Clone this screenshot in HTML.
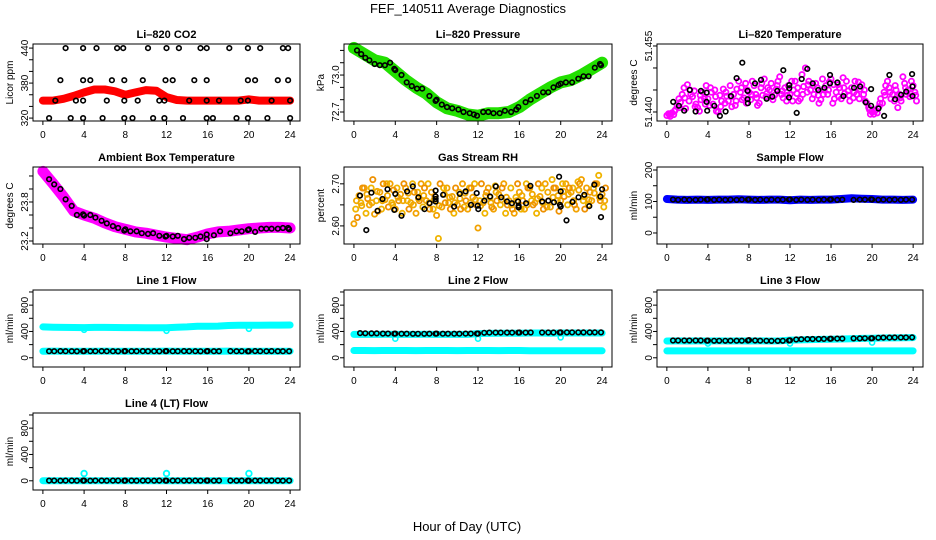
<!DOCTYPE html>
<html><head><meta charset="utf-8"><title>FEF_140511 Average Diagnostics</title>
<style>
html,body{margin:0;padding:0;background:#fff;}
svg{display:block;font-family:"Liberation Sans",sans-serif;}
</style></head>
<body>
<svg id="chart" width="936" height="540" viewBox="0 0 936 540" xmlns="http://www.w3.org/2000/svg">
<rect width="936" height="540" fill="#fff"/>
<text x="468" y="13" text-anchor="middle" font-size="13">FEF_140511  Average Diagnostics</text>
<text x="467" y="531" text-anchor="middle" font-size="13">Hour of Day (UTC)</text>
</svg>
<script>
// ---------- data ----------
var bandHours = [0,1,2,3,4,5,6,7,8,9,10,11,12,13,14,15,16,17,18,19,20,21,22,23,24];

var co2Band = [350,350,353,358,364,369,369,366,360,364,368,367,356,351,350,350,350,350,350,350,352,350,350,350,350];
var co2PtHours = [2.2,3.9,5.2,7.2,7.8,10.2,12.0,13.2,15.3,15.9,18.1,19.9,21.1,23.3,23.8,
  1.7,3.9,4.6,6.7,7.9,9.7,11.9,12.6,14.7,15.9,19.9,20.6,22.8,23.8,
  1.2,3.2,3.9,6.2,7.9,9.2,11.3,11.8,14.2,15.9,17.1,19.2,19.9,22.2,24.0,
  0.6,2.7,3.9,5.8,7.9,8.7,10.7,11.8,13.6,15.9,16.5,18.8,19.9,21.8,24.0];
var co2PtValues = [440,440,440,440,440,440,440,440,440,440,440,440,440,440,440,
  385,385,385,385,385,385,385,385,385,385,385,385,385,385,
  350,350,350,350,350,350,350,350,350,350,350,350,350,350,350,
  320,320,320,320,320,320,320,320,320,320,320,320,320,320,320];

var presBand = [73.22,73.17,73.12,73.10,73.03,72.96,72.90,72.85,72.78,72.73,72.71,72.68,72.67,72.69,72.69,72.70,72.74,72.80,72.85,72.90,72.94,72.96,73.00,73.05,73.10];
var presPtHours = [0.3,0.7,1.1,1.5,2.0,2.5,3.0,3.5,3.9,4.0,4.6,5.1,5.6,6.1,6.6,7.3,7.9,8.0,8.5,9.0,9.5,10.1,10.6,11.2,11.6,11.9,12.5,13.0,13.5,14.1,14.6,15.2,15.7,15.9,16.6,17.1,17.7,18.3,18.8,19.3,19.8,20.0,20.5,21.1,21.7,22.2,22.7,23.3,23.8,23.9];
var presPtValues = [73.20,73.17,73.14,73.12,73.09,73.08,73.08,73.10,73.05,73.04,73.00,72.94,72.91,72.89,72.89,72.83,72.79,72.80,72.76,72.74,72.73,72.72,72.70,72.69,72.68,72.67,72.70,72.70,72.69,72.69,72.71,72.70,72.72,72.74,72.78,72.80,72.83,72.86,72.86,72.90,72.92,72.93,72.94,72.94,72.97,72.99,72.99,73.06,73.09,73.08];

var tempA = [51.4392,51.4398,51.4415,51.4440,51.4462,51.4435,51.4410,51.4445,51.4430,51.4418,51.4400,51.4452,51.4425,51.4440,51.4470,51.4432,51.4445,51.4460,51.4420,51.4475,51.4450,51.4438,51.4480,51.4455,51.4440,51.4470,51.4430,51.4500,51.4450,51.4465,51.4428,51.4460,51.4475,51.4445,51.4430,51.4470,51.4455,51.4440,51.4462,51.4420,51.4400,51.4398,51.4420,51.4470,51.4440,51.4410,51.4480,51.4450,51.4460];
var tempB = [51.4396,51.4394,51.4430,51.4455,51.4425,51.4448,51.4402,51.4430,51.4415,51.4450,51.4438,51.4420,51.4460,51.4415,51.4445,51.4465,51.4428,51.4440,51.4455,51.4435,51.4465,51.4452,51.4440,51.4425,51.4470,51.4442,51.4485,51.4445,51.4430,51.4455,51.4475,51.4440,51.4420,51.4462,51.4478,51.4448,51.4432,51.4468,51.4440,51.4410,51.4395,51.4412,51.4445,51.4455,51.4425,51.4440,51.4465,51.4435,51.4445];
var tempC = [51.4390,51.4405,51.4422,51.4408,51.4440,51.4418,51.4428,51.4460,51.4445,51.4402,51.4425,51.4436,51.4412,51.4452,51.4428,51.4450,51.4470,51.4415,51.4438,51.4455,51.4428,51.4470,51.4432,51.4460,51.4450,51.4425,51.4458,51.4470,51.4440,51.4420,51.4450,51.4468,51.4430,51.4455,51.4442,51.4425,51.4470,51.4452,51.4425,51.4395,51.4405,51.4430,51.4460,51.4430,51.4450,51.4425,51.4440,51.4470,51.4425];
var tempD = [51.4394,51.4402,51.4410,51.4432,51.4450,51.4412,51.4438,51.4418,51.4455,51.4435,51.4412,51.4445,51.4435,51.4425,51.4455,51.4420,51.4440,51.4432,51.4465,51.4442,51.4435,51.4460,51.4448,51.4438,51.4425,51.4455,51.4440,51.4462,51.4460,51.4438,51.4440,51.4450,51.4462,51.4435,51.4455,51.4438,51.4445,51.4430,51.4450,51.4405,51.4402,51.4420,51.4438,51.4445,51.4460,51.4432,51.4455,51.4442,51.4438];
var tempPtHours = [0.62,1.17,1.69,2.24,2.80,3.32,3.87,3.87,3.93,4.62,5.17,5.72,6.24,6.80,7.35,7.87,7.87,7.9,8.59,9.17,9.72,10.28,10.76,11.35,11.93,11.93,11.9,12.65,13.14,13.69,14.21,14.76,15.35,15.90,15.90,16.62,17.20,18.24,18.83,19.38,19.90,19.90,20.62,21.17,21.69,22.24,22.83,23.32,23.94,23.94,23.9];
var tempPtValues = [51.4423,51.4414,51.4403,51.4450,51.4401,51.4448,51.4444,51.4423,51.4403,51.4414,51.4391,51.4401,51.4436,51.4477,51.4512,51.4448,51.4429,51.4420,51.4465,51.4473,51.4430,51.4435,51.4448,51.4495,51.4461,51.4454,51.4433,51.4398,51.4475,51.4498,51.4465,51.4450,51.4455,51.4465,51.4484,51.4467,51.4436,51.4455,51.4458,51.4422,51.4414,51.4452,51.4408,51.4391,51.4484,51.4429,51.4439,51.4446,51.4436,51.4458,51.4486];

var ambBand = [24.27,24.08,23.88,23.66,23.60,23.55,23.48,23.42,23.38,23.34,23.32,23.29,23.26,23.24,23.22,23.26,23.31,23.34,23.35,23.37,23.39,23.40,23.41,23.41,23.40];
var ambPtHours = [0.6,1.1,1.7,2.2,2.8,3.3,3.9,4.0,4.6,5.1,5.7,6.2,6.8,7.3,7.9,8.0,8.5,9.1,9.6,10.2,10.7,11.3,11.9,12.0,12.6,13.1,13.7,14.2,14.8,15.3,15.9,15.9,16.6,17.2,18.2,18.8,19.3,19.9,20.0,20.6,21.2,21.7,22.2,22.8,23.3,23.8,23.9];
var ambPtValues = [24.15,24.07,24.00,23.84,23.74,23.60,23.61,23.59,23.60,23.56,23.51,23.47,23.43,23.40,23.36,23.38,23.35,23.35,23.32,23.31,23.32,23.28,23.27,23.28,23.27,23.28,23.23,23.25,23.25,23.27,23.23,23.30,23.29,23.35,23.32,23.35,23.35,23.37,23.38,23.34,23.39,23.39,23.39,23.39,23.40,23.40,23.38];

var rhA = [2.605,2.672,2.690,2.650,2.628,2.680,2.662,2.700,2.640,2.675,2.690,2.655,2.630,2.700,2.660,2.680,2.625,2.645,2.690,2.670,2.650,2.700,2.640,2.668,2.595,2.655,2.690,2.640,2.675,2.700,2.660,2.630,2.680,2.640,2.690,2.655,2.670,2.700,2.645,2.690,2.660,2.700,2.680,2.640,2.710,2.690,2.660,2.700,2.675];
var rhB = [2.640,2.655,2.630,2.690,2.660,2.640,2.700,2.655,2.690,2.630,2.660,2.700,2.680,2.645,2.700,2.640,2.570,2.690,2.655,2.630,2.680,2.645,2.690,2.700,2.660,2.630,2.668,2.695,2.650,2.630,2.690,2.668,2.640,2.700,2.660,2.630,2.690,2.645,2.710,2.660,2.700,2.650,2.690,2.705,2.660,2.650,2.690,2.720,2.645];
var rhC = [2.620,2.690,2.665,2.710,2.635,2.700,2.645,2.685,2.660,2.700,2.640,2.680,2.660,2.690,2.640,2.670,2.700,2.655,2.640,2.690,2.640,2.660,2.690,2.650,2.700,2.680,2.645,2.660,2.690,2.650,2.640,2.700,2.660,2.690,2.650,2.700,2.640,2.660,2.690,2.635,2.670,2.690,2.650,2.700,2.640,2.680,2.700,2.660,2.690];
var rhD = [2.660,2.648,2.675,2.655,2.682,2.660,2.672,2.650,2.668,2.660,2.678,2.650,2.665,2.672,2.655,2.662,2.648,2.675,2.668,2.655,2.665,2.678,2.655,2.662,2.648,2.672,2.655,2.680,2.662,2.668,2.650,2.660,2.672,2.650,2.675,2.665,2.655,2.680,2.668,2.672,2.682,2.675,2.660,2.685,2.670,2.662,2.678,2.668,2.660];
var rhPtHours = [0.59,1.2,1.69,2.28,2.76,3.25,3.90,4.0,4.6,5.14,5.69,6.24,6.83,7.32,7.90,7.90,7.90,7.90,8.62,9.69,10.24,10.80,11.32,11.87,12.03,11.97,12.62,13.17,13.72,14.24,14.8,15.28,15.87,15.93,15.93,16.65,17.07,18.21,18.8,19.35,19.84,19.93,20.0,20.0,20.56,21.14,21.72,22.28,22.76,23.25,23.84,23.9,24.0];
var rhPtValues = [2.672,2.590,2.679,2.636,2.664,2.687,2.638,2.676,2.624,2.682,2.694,2.668,2.640,2.654,2.658,2.670,2.684,2.664,2.674,2.646,2.676,2.682,2.650,2.678,2.640,2.648,2.660,2.670,2.694,2.668,2.658,2.654,2.658,2.648,2.644,2.654,2.695,2.658,2.660,2.656,2.717,2.650,2.646,2.682,2.613,2.657,2.668,2.674,2.647,2.698,2.670,2.621,2.687];

var sampleBand = [108,106,105,106,105,106,106,107,106,105,106,106,104,106,105,106,106,108,110,109,108,106,106,105,106];
var line1Upper = [470,465,462,460,458,462,462,460,458,458,456,456,455,465,470,478,480,482,490,495,495,495,496,497,498];
var line1Lower = [100,101,100,99,100,100,101,100,100,99,100,100,101,100,100,99,100,100,101,100,100,99,100,100,100];
var line2Upper = [355,356,356,357,356,356,356,357,356,356,356,356,368,370,372,374,374,376,376,374,376,376,376,376,376];
var line2Lower = [110,110,109,110,110,110,109,110,110,110,109,110,110,110,109,110,110,108,106,106,106,106,106,106,106];
var line3Upper = [255,256,255,256,255,256,255,256,255,256,255,256,268,272,276,280,282,286,290,294,296,300,302,304,306];
var line3Lower = [105,104,105,104,105,104,105,104,105,104,105,104,105,104,105,104,105,104,105,104,105,104,105,104,105];
var line4Band = [2,2,2,2,2,2,2,2,2,2,2,2,2,2,2,2,2,2,2,2,2,2,2,2,2];
var dipHours = [4,12,20];
var line1Dips = [425,410,440];
var line2Dips = [290,290,310];
var line3Dips = [215,215,230];
var line4Dips = [110,110,110];

var flowHours = [0.6,1.1,1.7,2.2,2.8,3.3,3.9,4.0,4.6,5.1,5.7,6.2,6.8,7.3,7.9,8.0,8.6,9.1,9.7,10.2,10.8,11.3,11.9,12.0,12.6,13.1,13.7,14.2,14.8,15.3,15.9,16.0,16.6,17.1,18.2,18.8,19.3,19.9,20.0,20.6,21.1,21.7,22.2,22.8,23.3,23.9];
var samplePts = [106,105,106,105,105,106,106,107,105,106,105,106,105,106,106,107,105,106,105,106,105,106,106,107,105,106,105,106,105,106,106,107,105,106,105,106,106,107,106,105,106,105,106,105,106,106];
var line1Pts = [100,100,101,100,100,99,100,101,100,100,101,100,100,99,100,101,100,100,101,100,100,99,100,101,100,100,101,100,100,99,100,101,100,100,101,100,100,99,100,101,100,100,101,100,100,100];
var line2Pts = [375,372,370,370,368,368,366,368,366,366,365,365,365,366,366,368,366,366,366,366,368,368,368,368,380,382,382,382,382,383,383,384,383,384,384,384,384,384,385,385,385,386,386,386,386,386];
var line3Pts = [262,262,263,262,262,262,260,261,258,258,258,259,259,260,262,268,262,260,258,256,256,258,262,266,278,282,284,285,286,287,288,290,292,292,294,295,296,296,298,304,306,307,308,308,309,310];
var line4Pts = [3,3,2,3,3,2,3,3,2,3,3,2,3,3,2,3,3,2,3,3,2,3,3,2,3,3,2,3,3,2,3,3,2,3,3,2,3,3,2,3,3,2,3,3,2,3];

var xTicks = [0,4,8,12,16,20,24];

// ---------- drawing ----------
var svg = document.getElementById('chart');
var NS = 'http://www.w3.org/2000/svg';
function mk(tag, attrs, parent){
  var e = document.createElementNS(NS, tag);
  for (var k in attrs) e.setAttribute(k, attrs[k]);
  (parent || svg).appendChild(e);
  return e;
}
var cols = [{l:33,r:300},{l:344,r:612},{l:657,r:923}];
var rowTop = [44,167,290,413];
var H = 77;

function makePanel(name, title, ylab, col, row, ymin, ymax, yticks, ylabels){
  var c = cols[col], t = rowTop[row], b = t + H;
  var g = mk('g', {});
  
  
  var p = {g:g, l:c.l, r:c.r, t:t, b:b};
  p.x = function(h){ return c.l + (h + 0.96) / 25.92 * (c.r - c.l); };
  p.y = function(v){ return b - (v - ymin) / (ymax - ymin) * H; };
  var tt = mk('text', {x:(c.l + c.r) / 2, y:t - 6, 'text-anchor':'middle', 'font-size':11, 'font-weight':'bold'}, g);
  tt.textContent = title;
  
  
  var yl = mk('text', {x:c.l - 20, y:(t + b) / 2, 'text-anchor':'middle', 'font-size':10, transform:'rotate(-90 ' + (c.l - 20) + ' ' + ((t + b) / 2) + ')'}, g);
  yl.textContent = ylab;
  
  
  var ax = mk('g', {stroke:'#000', 'stroke-width':1}, g);
  
  
  xTicks.forEach(function(h){
    var xx = p.x(h);
    mk('line', {x1:xx, x2:xx, y1:b, y2:b + 4}, ax);
    var tl = mk('text', {x:xx, y:b + 17, 'text-anchor':'middle', 'font-size':10, stroke:'none'}, g);
    tl.textContent = h;
    
    
  });
  yticks.forEach(function(v){
    var yy = p.y(v);
    mk('line', {x1:c.l - 4, x2:c.l, y1:yy, y2:yy}, ax);
  });
  ylabels.forEach(function(s){
    var yy = p.y(parseFloat(s));
    var lab = mk('text', {x:c.l - 5, y:yy, 'text-anchor':'middle', 'font-size':10, transform:'rotate(-90 ' + (c.l - 5) + ' ' + yy + ')'}, g);
    lab.textContent = s;
    
    
  });
  p.marks = mk('g', {}, g);
  
  
  var box = mk('rect', {x:c.l, y:t, width:c.r - c.l, height:H, fill:'none', stroke:'#000', 'stroke-width':1}, g);
  
  
  return p;
}
function band(p, name, hours, vals, color, w){
  var pts = hours.map(function(h, i){ return p.x(h).toFixed(1) + ',' + p.y(vals[i]).toFixed(1); }).join(' ');
  var pl = mk('polyline', {points:pts, fill:'none', stroke:color, 'stroke-width':w, 'stroke-linejoin':'round', 'stroke-linecap':'round'}, p.marks);
  
  
}
function points(p, name, hours, vals, color, r, sw){
  var g = mk('g', {fill:'none', stroke:color, 'stroke-width':sw}, p.marks);
  
  
  hours.forEach(function(h, i){
    var ci = mk('circle', {cx:p.x(h).toFixed(1), cy:p.y(vals[i]).toFixed(1), r:r}, g);
    
    
  });
}
function scatterSeries(p, name, arr, offset, color){
  var hs = arr.map(function(v, i){ return offset + i * 0.5; });
  points(p, name, hs, arr, color, 2.6, 1.8);
}

// Li-820 CO2
var p1 = makePanel('li820-co2', 'Li\u2013820 CO2', 'Licor ppm', 0, 0, 315, 447, [320,340,360,380,400,420,440], ['320','380','440']);
band(p1, 'co2-band', bandHours, co2Band, '#ff0000', 8);
points(p1, 'co2-black-points', co2PtHours, co2PtValues, '#000', 2.3, 1.6);

// Li-820 Pressure
var p2 = makePanel('li820-pressure', 'Li\u2013820 Pressure', 'kPa', 1, 0, 72.627, 73.252, [72.7,72.8,72.9,73.0,73.1,73.2], ['72.7','73.0']);
band(p2, 'pressure-band', bandHours, presBand, '#22e000', 12);
points(p2, 'pressure-black-points', presPtHours, presPtValues, '#000', 2.3, 1.6);

// Li-820 Temperature
var p3 = makePanel('li820-temperature', 'Li\u2013820 Temperature', 'degrees C', 2, 0, 51.43795, 51.45545, [51.440,51.445,51.450,51.455], ['51.440','51.455']);
scatterSeries(p3, 'temperature-magenta-a', tempA, 0, '#ff00ff');
scatterSeries(p3, 'temperature-magenta-b', tempB, 0.17, '#ff00ff');
scatterSeries(p3, 'temperature-magenta-c', tempC, 0.33, '#ff00ff');
scatterSeries(p3, 'temperature-magenta-d', tempD, 0.25, '#ff00ff');
points(p3, 'temperature-black-points', tempPtHours, tempPtValues, '#000', 2.3, 1.6);

// Ambient Box Temperature
var p4 = makePanel('ambient-box-temperature', 'Ambient Box Temperature', 'degrees C', 0, 1, 23.154, 24.338, [23.2,23.4,23.6,23.8,24.0,24.2], ['23.2','23.8']);
band(p4, 'ambient-band', bandHours, ambBand, '#ff00ff', 11);
points(p4, 'ambient-black-points', ambPtHours, ambPtValues, '#000', 2.3, 1.6);

// Gas Stream RH
var p5 = makePanel('gas-stream-rh', 'Gas Stream RH', 'percent', 1, 1, 2.557, 2.740, [2.60,2.65,2.70], ['2.60','2.70']);
scatterSeries(p5, 'rh-orange-a', rhA, 0, '#f2a200');
scatterSeries(p5, 'rh-orange-b', rhB, 0.17, '#f0b400');
scatterSeries(p5, 'rh-orange-c', rhC, 0.33, '#ee9000');
scatterSeries(p5, 'rh-orange-d', rhD, 0.25, '#f0a800');
points(p5, 'rh-black-points', rhPtHours, rhPtValues, '#000', 2.3, 1.6);

// Sample Flow
var p6 = makePanel('sample-flow', 'Sample Flow', 'ml/min', 2, 1, -35, 209.5, [0,50,100,150,200], ['0','100','200']);
band(p6, 'sample-flow-band', bandHours, sampleBand, '#0000ff', 8);
points(p6, 'sample-flow-black-points', flowHours, samplePts, '#000', 2.3, 1.6);

// Line flows
var fT = [0,200,400,600,800,1000], fL = ['0','400','800'];
var p7 = makePanel('line1-flow', 'Line 1 Flow', 'ml/min', 0, 2, -140, 1030, fT, fL);
band(p7, 'line1-upper-band', bandHours, line1Upper, '#00ffff', 7);
band(p7, 'line1-lower-band', bandHours, line1Lower, '#00ffff', 7);
points(p7, 'line1-dips', dipHours, line1Dips, '#00ffff', 2.5, 1.6);
points(p7, 'line1-black-points', flowHours, line1Pts, '#000', 2.3, 1.6);

var p8 = makePanel('line2-flow', 'Line 2 Flow', 'ml/min', 1, 2, -140, 1030, fT, fL);
band(p8, 'line2-upper-band', bandHours, line2Upper, '#00ffff', 7);
band(p8, 'line2-lower-band', bandHours, line2Lower, '#00ffff', 7);
points(p8, 'line2-dips', dipHours, line2Dips, '#00ffff', 2.5, 1.6);
points(p8, 'line2-black-points', flowHours, line2Pts, '#000', 2.3, 1.6);

var p9 = makePanel('line3-flow', 'Line 3 Flow', 'ml/min', 2, 2, -140, 1030, fT, fL);
band(p9, 'line3-upper-band', bandHours, line3Upper, '#00ffff', 7);
band(p9, 'line3-lower-band', bandHours, line3Lower, '#00ffff', 7);
points(p9, 'line3-dips', dipHours, line3Dips, '#00ffff', 2.5, 1.6);
points(p9, 'line3-black-points', flowHours, line3Pts, '#000', 2.3, 1.6);

var p10 = makePanel('line4-lt-flow', 'Line 4 (LT) Flow', 'ml/min', 0, 3, -140, 1030, fT, fL);
band(p10, 'line4-band', bandHours, line4Band, '#00ffff', 7);
points(p10, 'line4-dips', dipHours, line4Dips, '#00ffff', 2.8, 1.8);
points(p10, 'line4-black-points', flowHours, line4Pts, '#000', 2.3, 1.6);
</script>
</body></html>
